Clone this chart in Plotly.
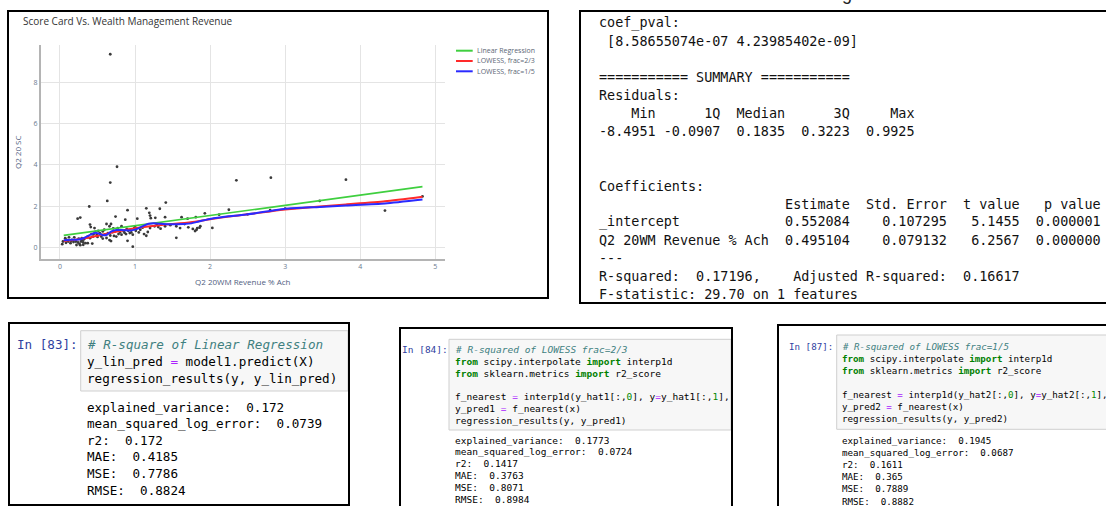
import plotly.graph_objects as go

W, H = 1106, 506

# ---------------- chart data ----------------
sc_x = [0.67, 0.76, 0.67, 0.63, 0.39, 1.41, 2.35, 2.81, 3.81, 4.33, 2.25, 1.93, 2.03, 3.46, 3.00, 2.80, 2.12, 2.50, 4.83, 1.80, 1.86, 1.55,
        0.235, 0.27, 0.90, 1.15, 1.33, 0.74, 0.87, 1.03, 1.19, 1.20, 1.21, 1.27, 1.40, 1.62, 1.70, 1.81, 0.40, 0.41, 0.46, 0.62, 0.66, 0.68,
        0.71, 0.77, 0.82, 0.89, 0.93, 0.97, 0.90, 0.97, 1.07, 1.12, 1.15, 1.17, 1.20, 1.26, 1.29, 1.31, 1.34, 1.40, 1.47, 1.55, 1.60, 1.66,
        1.71, 1.77, 1.82, 1.83, 1.87,
        0.03, 0.04, 0.07, 0.09, 0.11, 0.12, 0.14, 0.16, 0.18, 0.19, 0.21, 0.22, 0.24, 0.26, 0.28, 0.29, 0.30, 0.31, 0.32, 0.34, 0.36, 0.37,
        0.40, 0.42, 0.44, 0.47, 0.49, 0.51, 0.53, 0.55, 0.57, 0.59, 0.60, 0.64, 0.67, 0.70, 0.73, 0.75, 0.78, 0.80, 0.82, 0.85, 0.88, 0.91,
        0.95, 0.99, 1.01,
        0.27, 0.31, 0.43, 0.37, 0.66, 0.68, 0.62, 0.57, 0.08, 0.15, 0.50, 0.72, 0.86, 1.05, 0.55, 0.45, 0.25, 1.10, 1.00]
sc_y = [9.37, 3.91, 3.14, 2.25, 1.98, 2.17, 3.25, 3.38, 3.28, 1.78, 1.82, 1.65, 0.94, 2.25, 1.88, 1.80, 1.58, 1.60, 2.47, 0.79, 0.95, 0.46,
        1.39, 1.44, 1.80, 1.89, 1.87, 1.49, 1.34, 1.39, 1.67, 1.54, 1.41, 1.43, 1.46, 1.46, 1.39, 1.46, 1.10, 0.98, 0.93, 1.13, 1.02, 1.13,
        0.92, 0.93, 1.02, 0.89, 0.69, 0.61, 0.31, 0.03, 0.85, 0.64, 0.56, 0.74, 0.93, 1.02, 1.10, 0.98, 0.90, 1.02, 1.07, 1.02, 0.93, 1.13,
        0.97, 0.89, 0.85, 0.93, 1.02,
        0.15, 0.28, 0.44, 0.36, 0.28, 0.48, 0.20, 0.36, 0.25, 0.48, 0.28, 0.11, 0.23, 0.16, 0.28, 0.44, 0.33, 0.23, 0.39, 0.20, 0.48, 0.52,
        0.44, 0.64, 0.52, 0.74, 0.61, 0.80, 0.69, 0.52, 0.77, 0.85, 0.61, 0.69, 0.57, 0.74, 0.77, 0.52, 0.64, 0.72, 0.61, 0.77, 0.64, 0.80,
        0.72, 0.93, 0.80,
        0.10, 0.12, 0.18, 0.20, 0.35, 0.30, 0.45, 0.42, 0.22, 0.30, 0.50, 0.55, 0.70, 0.72, 0.60, 0.65, 0.42, 0.95, 1.00]

lin_x = [0.05, 4.83]
lin_y = [0.58, 2.94]

red_x = [0.05, 0.2, 0.35, 0.5, 0.65, 0.8, 1.0, 1.2, 1.4, 1.6, 1.8, 2.0, 2.25, 2.5, 2.8, 3.0, 3.46, 3.81, 4.33, 4.83]
red_y = [0.30, 0.36, 0.45, 0.56, 0.68, 0.79, 0.92, 1.02, 1.10, 1.16, 1.24, 1.36, 1.49, 1.60, 1.74, 1.83, 1.98, 2.08, 2.23, 2.45]

blue_x = [0.05, 0.15, 0.25, 0.32, 0.4, 0.47, 0.52, 0.58, 0.63, 0.68, 0.75, 0.85, 0.95, 1.02, 1.1, 1.18, 1.25, 1.35, 1.45, 1.55,
          1.65, 1.75, 1.85, 2.0, 2.25, 2.5, 2.8, 3.0, 3.46, 3.81, 4.33, 4.83]
blue_y = [0.34, 0.36, 0.38, 0.45, 0.60, 0.70, 0.66, 0.58, 0.62, 0.76, 0.84, 0.83, 0.82, 0.88, 1.02, 1.14, 1.16, 1.14, 1.12, 1.12,
          1.13, 1.16, 1.25, 1.37, 1.50, 1.60, 1.76, 1.87, 1.96, 2.03, 2.13, 2.32]

x_ticks = [0, 1, 2, 3, 4, 5]
y_ticks = [0, 2, 4, 6, 8]

legend_names = ["Linear Regression", "LOWESS, frac=2/3", "LOWESS, frac=1/5"]
line_colors = ["#3fcf3f", "#ff2a2a", "#2a2aff"]

# ---------------- text panels ----------------
summary_lines = [
    "coef_pval:",
    " [8.58655074e-07 4.23985402e-09]",
    "",
    "=========== SUMMARY ===========",
    "Residuals:",
    "    Min      1Q  Median      3Q     Max",
    "-8.4951 -0.0907  0.1835  0.3223  0.9925",
    "",
    "",
    "Coefficients:",
    " " * 23 + "Estimate  Std. Error  t value   p value",
    "_intercept" + " " * 13 + "0.552084    0.107295   5.1455  0.000001",
    "Q2 20WM Revenue % Ach  0.495104    0.079132   6.2567  0.000000",
    "---",
    "R-squared:  0.17196,    Adjusted R-squared:  0.16617",
    "F-statistic: 29.70 on 1 features",
]
out83 = ["explained_variance:  0.172", "mean_squared_log_error:  0.0739", "r2:  0.172",
         "MAE:  0.4185", "MSE:  0.7786", "RMSE:  0.8824"]
out84 = ["explained_variance:  0.1773", "mean_squared_log_error:  0.0724", "r2:  0.1417",
         "MAE:  0.3763", "MSE:  0.8071", "RMSE:  0.8984"]
out87 = ["explained_variance:  0.1945", "mean_squared_log_error:  0.0687", "r2:  0.1611",
         "MAE:  0.365", "MSE:  0.7889", "RMSE:  0.8882"]

MONO = "DejaVu Sans Mono"
SANS = "Open Sans"
COM, KW, OP, NUM, PROMPT = "#408080", "#008000", "#AA22FF", "#008800", "#303F9F"


def px(x):
    return x / W


def py(y):
    return 1 - y / H


def t(s):
    return s.replace(" ", "\u00a0")


def col(s, c, b=False, i=False):
    s = t(s)
    if b:
        s = f"<b>{s}</b>"
    if i:
        s = f"<i>{s}</i>"
    return f"<span style='color:{c}'>{s}</span>"


fig = go.Figure()
fig.add_trace(go.Scatter(x=sc_x, y=sc_y, mode="markers", name="data",
                         marker=dict(size=2.8, color="#3a3a3a", line=dict(width=0))))
fig.add_trace(go.Scatter(x=lin_x, y=lin_y, mode="lines", name=legend_names[0],
                         line=dict(color=line_colors[0], width=1.7)))
fig.add_trace(go.Scatter(x=red_x, y=red_y, mode="lines", name=legend_names[1],
                         line=dict(color=line_colors[1], width=2, shape="spline", smoothing=0.6)))
fig.add_trace(go.Scatter(x=blue_x, y=blue_y, mode="lines", name=legend_names[2],
                         line=dict(color=line_colors[2], width=2, shape="spline", smoothing=0.6)))

tickfont = dict(size=7, color="#6b7a8f", family=SANS)
fig.update_layout(
    width=W, height=H, margin=dict(l=0, r=0, t=0, b=0),
    paper_bgcolor="white", plot_bgcolor="white", showlegend=False,
    xaxis=dict(domain=[px(40.7), px(445)], range=[-0.257, 5.13], tickvals=x_ticks,
               showgrid=True, gridcolor="#e4e4e4", gridwidth=1.3, zeroline=False,
               showline=True, linecolor="#b4b4b4", linewidth=1.6, ticks="", tickfont=tickfont),
    yaxis=dict(domain=[py(259), py(45)], range=[-0.57, 9.82], tickvals=y_ticks,
               showgrid=True, gridcolor="#e4e4e4", gridwidth=1.3, zeroline=False,
               showline=True, linecolor="#b4b4b4", linewidth=1.6, ticks="", tickfont=tickfont),
)

shapes = []


def rect(x0, y0, x1, y1, line="black", width=2, fill=None, layer="above"):
    shapes.append(dict(type="rect", xref="paper", yref="paper",
                       x0=px(x0), x1=px(x1), y0=py(y1), y1=py(y0),
                       line=dict(color=line, width=width),
                       fillcolor=fill if fill else "rgba(0,0,0,0)", layer=layer))


def hline(x0, x1, y, color, width):
    shapes.append(dict(type="line", xref="paper", yref="paper",
                       x0=px(x0), x1=px(x1), y0=py(y), y1=py(y),
                       line=dict(color=color, width=width)))


def txt(x, y, s, size, color="#000", family=MONO, anchor="left", angle=0):
    fig.add_annotation(x=px(x), y=py(y), xref="paper", yref="paper", text=s,
                       showarrow=False, xanchor=anchor, yanchor="middle", borderpad=0,
                       textangle=angle, font=dict(size=size, color=color, family=family))


# chart panel
rect(8, 11, 548, 298)
txt(22, 21, "Score Card Vs. Wealth Management Revenue", 10, "#333", SANS)
txt(17, 152, "Q2 20 SC", 8, "#506080", SANS, anchor="center", angle=-90)
txt(243, 281, "Q2 20WM Revenue % Ach", 8, "#506080", SANS, anchor="center")
for k, (nm, c) in enumerate(zip(legend_names, line_colors)):
    yy = 50.7 + 10.3 * k
    hline(456, 472.7, yy, c, 2)
    txt(476, yy, nm, 7, "#5b6675", SANS)

# top-right summary panel
rect(580, 11, 1112, 303)
for i, s in enumerate(summary_lines):
    if s:
        txt(598, 23.5 + 18.07 * i, t(s), 13.45, "#111")

# partial glyph at the top edge
fig.add_annotation(x=px(847), y=py(5), xref="paper", yref="paper", text="g", showarrow=False,
                   xanchor="center", yanchor="bottom", borderpad=0,
                   font=dict(size=18, color="#222", family="Liberation Sans"))

# In [83]
rect(9, 323, 349, 505)
rect(80.7, 330.7, 348, 391, line="#cfcfcf", width=1, fill="#f7f7f7", layer="below")
txt(16, 344.7, t("In [83]:"), 12.6, PROMPT)
c83 = [col("# R-square of Linear Regression", COM, i=True),
       t("y_lin_pred ") + col("=", OP) + t(" model1.predict(X)"),
       t("regression_results(y, y_lin_pred)")]
for k, s in enumerate(c83):
    txt(86, 344.7 + 17 * k, s, 12.6, "#000")
for k, s in enumerate(out83):
    txt(86, 407.3 + 16.55 * k, t(s), 12.6, "#000")


def code_block(hat, pred, frac):
    return [col(f"# R-squared of LOWESS frac={frac}", COM, i=True),
            col("from", KW, b=True) + t(" scipy.interpolate ") + col("import", KW, b=True) + t(" interp1d"),
            col("from", KW, b=True) + t(" sklearn.metrics ") + col("import", KW, b=True) + t(" r2_score"),
            "",
            t("f_nearest ") + col("=", OP) + t(f" interp1d({hat}[:,") + col("0", NUM) + t("], y") + col("=", OP)
            + t(f"{hat}[:,") + col("1", NUM) + t("],"),
            t(f"{pred} ") + col("=", OP) + t(" f_nearest(x)"),
            t(f"regression_results(y, {pred})")]


# In [84]
rect(449, 339.3, 731, 430, line="#cfcfcf", width=1, fill="#f7f7f7", layer="below")
rect(400, 328, 732, 515)
txt(401, 349.5, t("In [84]:"), 9.5, PROMPT)
for k, s in enumerate(code_block("y_hat1", "y_pred1", "2/3")):
    if s:
        txt(453.7, 349.3 + 11.85 * k, s, 9.5, "#000")
for k, s in enumerate(out84):
    txt(453.7, 440 + 11.9 * k, t(s), 9.5, "#000")

# In [87]
rect(836.7, 335, 1110, 429.3, line="#cfcfcf", width=1, fill="#f7f7f7", layer="below")
rect(778, 325, 1112, 515)
txt(788.3, 346, t("In [87]:"), 9.2, PROMPT)
for k, s in enumerate(code_block("y_hat2", "y_pred2", "1/5")):
    if s:
        txt(840.7, 346 + 12.1 * k, s, 9.2, "#000")
for k, s in enumerate(out87):
    txt(840.7, 440 + 12.2 * k, t(s), 9.2, "#000")

fig.update_layout(shapes=shapes)
fig.write_html("out.html", config={"displayModeBar": False},
               post_script="document.body.style.margin='0';document.body.style.overflow='hidden';")
